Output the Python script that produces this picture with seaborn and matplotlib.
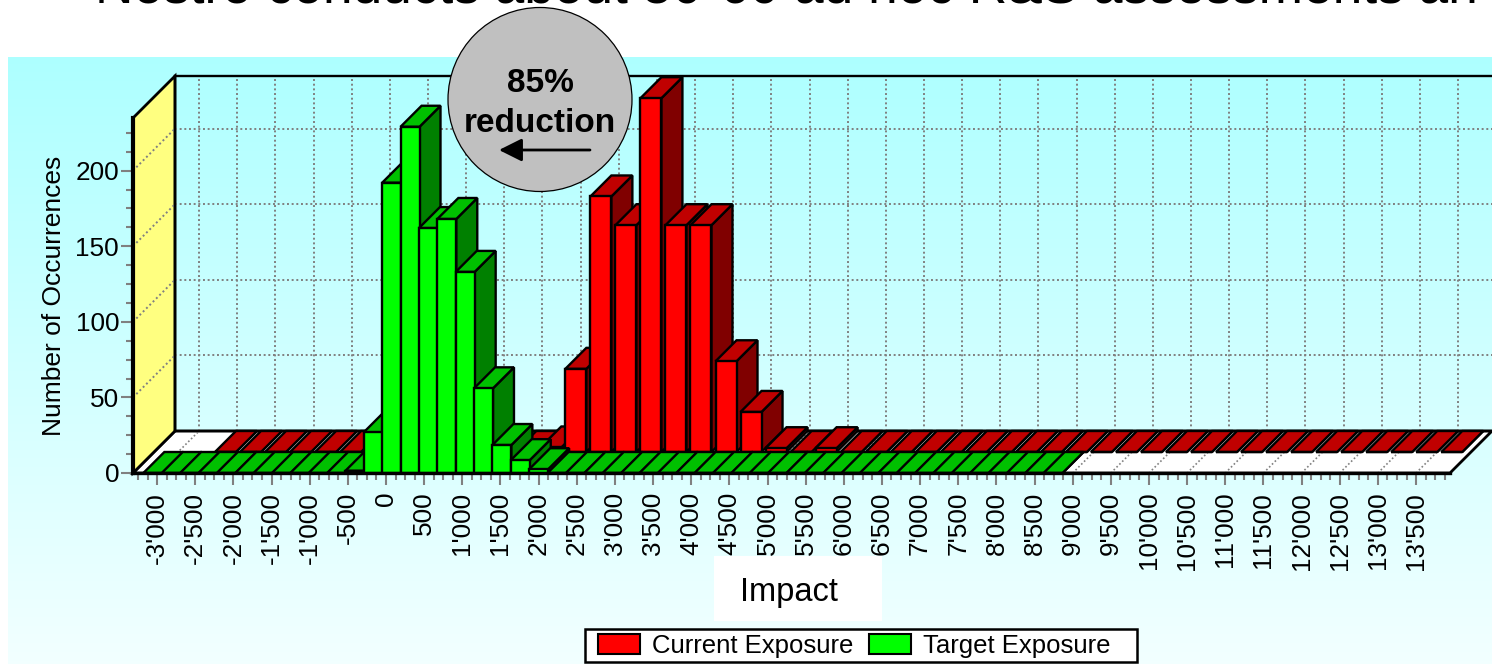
import numpy as np
import pandas as pd
import seaborn as sns
import matplotlib
matplotlib.use("Agg")
import matplotlib.pyplot as plt
from matplotlib.patches import Circle, Patch, Polygon, Rectangle, FancyArrowPatch
from matplotlib.ticker import FixedLocator, MultipleLocator

# Bin centres and occurrence counts for both exposure distributions
green_impact = [-3056, -2815, -2574, -2334, -2093, -1852, -1611, -1371, -1130, -889,
                -648, -407, -166, 74, 315, 556, 797, 1038, 1278, 1519,
                1760, 2001, 2242, 2482, 2723, 2964, 3205, 3446, 3686, 3927,
                4168, 4409, 4650, 4890, 5131, 5372, 5613, 5854, 6094, 6335,
                6576, 6817, 7058, 7298, 7539, 7780, 8021, 8262, 8502, 8743]
target_exposure = [0, 0, 0, 0, 0, 0, 0, 0, 0, 0,
                   0, 1.5, 27, 192, 229, 162, 168, 133, 56, 18.5,
                   8.5, 2.5, 0, 0, 0, 0, 0, 0, 0, 0,
                   0, 0, 0, 0, 0, 0, 0, 0, 0, 0,
                   0, 0, 0, 0, 0, 0, 0, 0, 0, 0]

red_impact = [-2379, -2051, -1723, -1395, -1067, -739, -411, -83, 245, 573,
              901, 1229, 1557, 1885, 2213, 2541, 2869, 3197, 3525, 3853,
              4181, 4509, 4837, 5165, 5493, 5821, 6149, 6477, 6805, 7133,
              7461, 7789, 8117, 8445, 8773, 9101, 9429, 9757, 10085, 10413,
              10741, 11069, 11397, 11725, 12053, 12381, 12709, 13037, 13365, 13693]
current_exposure = [0, 0, 0, 0, 0, 0, 0, 0, 0, 0,
                    0, 0, 0, 3, 55, 169, 150, 234, 150, 150,
                    60, 26.5, 2.5, 0, 2.5, 0, 0, 0, 0, 0,
                    0, 0, 0, 0, 0, 0, 0, 0, 0, 0,
                    0, 0, 0, 0, 0, 0, 0, 0, 0, 0]

x_ticks = list(range(-3000, 14000, 500))
x_tick_labels = ["-3'000", "-2'500", "-2'000", "-1'500", "-1'000", "-500", "0", "500",
                 "1'000", "1'500", "2'000", "2'500", "3'000", "3'500", "4'000", "4'500",
                 "5'000", "5'500", "6'000", "6'500", "7'000", "7'500", "8'000", "8'500",
                 "9'000", "9'500", "10'000", "10'500", "11'000", "11'500", "12'000",
                 "12'500", "13'000", "13'500"]
y_ticks = [0, 50, 100, 150, 200]

# Figure layout, in pixels
W, H = 1492, 664
PX_PER_X = 0.0763
PX_PER_Y = 1.512
X_ZERO_PX = 386
LEFT_PX, RIGHT_PX, BASE_PX, TOP_PX = 133, 1450, 473, 118
LAYER_PX = 21
x_limits = ((LEFT_PX - X_ZERO_PX) / PX_PER_X, (RIGHT_PX - X_ZERO_PX) / PX_PER_X)
y_limits = (0, (BASE_PX - TOP_PX) / PX_PER_Y)
DX = LAYER_PX / PX_PER_X
DY = LAYER_PX / PX_PER_Y

sns.set_theme(style="white")
plt.rcParams["font.family"] = ["Liberation Sans", "DejaVu Sans"]
GREY = "#808080"
DOTTED = (0, (1, 1.4))
TICK_SIZE = 18.8
EDGE = 1.7


def layer_axes(fig, shift_px, zorder):
    """Axes whose plotting box is pushed back along the depth direction."""
    rect = [(LEFT_PX + shift_px) / W, (H - BASE_PX + shift_px) / H,
            (RIGHT_PX - LEFT_PX) / W, (BASE_PX - TOP_PX) / H]
    ax = fig.add_axes(rect, zorder=zorder)
    ax.patch.set_visible(False)
    return ax


def extruded_bars(ax, impact, counts, width, front, top, side):
    """Bars from seaborn, then a top and side face on each one."""
    df = pd.DataFrame({"impact": impact, "count": counts})
    sns.barplot(data=df, x="impact", y="count", native_scale=True, orient="x",
                width=width, color=front, saturation=1, edgecolor="black",
                linewidth=EDGE, errorbar=None, ax=ax)
    for i, bar in enumerate(ax.patches):
        x0, w, h = bar.get_x(), bar.get_width(), bar.get_height()
        x1 = x0 + w
        base = 10 + 3 * i
        bar.set_zorder(base + 2)
        bar.set_clip_on(False)
        ax.add_patch(Polygon([(x1, 0), (x1 + DX, DY), (x1 + DX, h + DY), (x1, h)],
                             facecolor=side, edgecolor="black", linewidth=EDGE,
                             zorder=base, clip_on=False))
        ax.add_patch(Polygon([(x0, h), (x1, h), (x1 + DX, h + DY), (x0 + DX, h + DY)],
                             facecolor=top, edgecolor="black", linewidth=EDGE,
                             zorder=base + 1, clip_on=False))
    ax.set_xlim(x_limits)
    ax.set_ylim(y_limits)


fig = plt.figure(figsize=(W / 100, H / 100), dpi=100, facecolor="white")

# Background panel with its vertical gradient and the label plate
bg = fig.add_axes([0, 0, 1, 1], zorder=0)
bg.set_xlim(0, W)
bg.set_ylim(H, 0)
bg.axis("off")
shade = np.linspace(0, 1, 256)[:, None, None]
gradient = np.concatenate([0.68 + 0.27 * shade, np.ones_like(shade), np.ones_like(shade)], axis=2)
bg.imshow(gradient, extent=(8, W, H, 57), aspect="auto", zorder=0)
bg.set_xlim(0, W)
bg.set_ylim(H, 0)
bg.add_patch(Rectangle((714, 556), 168, 65, facecolor="white", edgecolor="none", zorder=1))

# Back wall, floor and side wall
back = layer_axes(fig, 2 * LAYER_PX, 1)
back.set_xlim(x_limits)
back.set_ylim(y_limits)
back.set_xticks(x_ticks)
back.set_yticks(y_ticks[1:])
back.tick_params(length=0, labelbottom=False, labelleft=False)
back.grid(True, color=GREY, linestyle=DOTTED, linewidth=1.4)
back.set_axisbelow(True)
back.spines["right"].set_visible(False)
for name in ("top", "left", "bottom"):
    back.spines[name].set_color("black")
    back.spines[name].set_linewidth(1.7)

dx2, dy2 = 2 * DX, 2 * DY
x0, x1 = x_limits
y1 = y_limits[1]
# The wall and floor are positioned relative to the back plane, hence the negative offsets
back.add_patch(Polygon([(x0 - dx2, -dy2), (x0, 0), (x1, 0), (x1 - dx2, -dy2)],
                       facecolor="white", edgecolor="black", linewidth=2, clip_on=False, zorder=0.5))
back.add_patch(Polygon([(x0 - dx2, -dy2), (x0 - dx2, y1 - dy2), (x0, y1), (x0, 0)],
                       facecolor="#FFFF80", edgecolor="black", linewidth=2, clip_on=False, zorder=0.5))
for t in x_ticks:
    back.plot([t - dx2, t], [-dy2, 0], color=GREY, linestyle=DOTTED, linewidth=1.2,
              clip_on=False, zorder=0.6)
for v in y_ticks[1:]:
    back.plot([x0 - dx2, x0], [v - dy2, v], color=GREY, linestyle=DOTTED, linewidth=1.4,
              clip_on=False, zorder=0.6)

# Rear row: current exposure
rear = layer_axes(fig, LAYER_PX, 2)
extruded_bars(rear, red_impact, current_exposure, 21 / 25.03, "#FF0000", "#C00000", "#800000")
rear.set_axis_off()

# Front row: target exposure, carrying the visible axes
ax = layer_axes(fig, 0, 3)
extruded_bars(ax, green_impact, target_exposure, 19 / 18.37, "#00FF00", "#00C000", "#008000")
for name in ("top", "right"):
    ax.spines[name].set_visible(False)
ax.spines["left"].set_linewidth(3)
ax.spines["bottom"].set_linewidth(2.4)
for name in ("left", "bottom"):
    ax.spines[name].set_color("black")
    ax.spines[name].set_zorder(500)
ax.xaxis.set_major_locator(FixedLocator(x_ticks))
ax.xaxis.set_minor_locator(MultipleLocator(125))
ax.set_xticklabels(x_tick_labels, rotation=90, fontsize=TICK_SIZE)
ax.yaxis.set_major_locator(FixedLocator(y_ticks))
ax.yaxis.set_minor_locator(MultipleLocator(12.5))
ax.tick_params(axis="both", which="major", length=8.5, width=1.5, color=GREY, bottom=True, left=True,
               labelcolor="black")
ax.tick_params(axis="both", which="minor", length=5, width=1.5, color=GREY, bottom=True, left=True)
ax.tick_params(axis="x", which="major", pad=5)
ax.tick_params(axis="y", which="major", pad=1.5, labelsize=TICK_SIZE)
ax.set_xlabel("Impact", fontsize=23.5, color="black")
ax.xaxis.set_label_coords((789 - LEFT_PX) / (RIGHT_PX - LEFT_PX), (BASE_PX - 592) / (BASE_PX - TOP_PX))
ax.xaxis.label.set_verticalalignment("center")
ax.set_ylabel("Number of Occurrences", fontsize=19, color="black")
ax.yaxis.set_label_coords((66 - LEFT_PX) / (RIGHT_PX - LEFT_PX), (BASE_PX - 296) / (BASE_PX - TOP_PX))

# Callout bubble drawn over the chart
over = fig.add_axes([0, 0, 1, 1], zorder=10)
over.set_xlim(0, W)
over.set_ylim(H, 0)
over.axis("off")
over.add_patch(Circle((540, 99.5), 92, facecolor="#C0C0C0", edgecolor="black", linewidth=0.9, clip_on=False))
over.text(540, 83, "85%", ha="center", va="center", fontsize=24, fontweight="bold", color="black")
over.text(540, 123, "reduction", ha="center", va="center", fontsize=24, fontweight="bold", color="black")
over.add_patch(FancyArrowPatch((590, 150), (499, 150), mutation_scale=1,
                               arrowstyle="-|>,head_length=14,head_width=7",
                               linewidth=2, color="black", shrinkA=0, shrinkB=0))

# Slide heading running off the top edge
fig.text(95 / W, 1 - 2.5 / H, "Nostro conducts about 50-60 ad hoc R&S assessments an",
         fontsize=38.3, color="black", ha="left", va="baseline", zorder=20)

# Legend frame is drawn separately from its entries so its padding can differ by direction
over.add_patch(Rectangle((585, 629), 552, 33, facecolor="white", edgecolor="black", linewidth=1.8))
handles = [Patch(facecolor="#FF0000", edgecolor="black", linewidth=1.5),
           Patch(facecolor="#00FF00", edgecolor="black", linewidth=1.5)]
legend = fig.legend(handles, ["Current Exposure", "Target Exposure"], ncol=2,
                    loc="lower left", bbox_to_anchor=(598 / W, 1 - 658 / H),
                    fontsize=18.5, frameon=False,
                    handlelength=1.63, handleheight=0.82, handletextpad=0.46,
                    columnspacing=0.62, borderpad=0, borderaxespad=0, labelcolor="black")
legend.set_zorder(20)

fig.savefig("out.png", dpi=100, facecolor="white")
